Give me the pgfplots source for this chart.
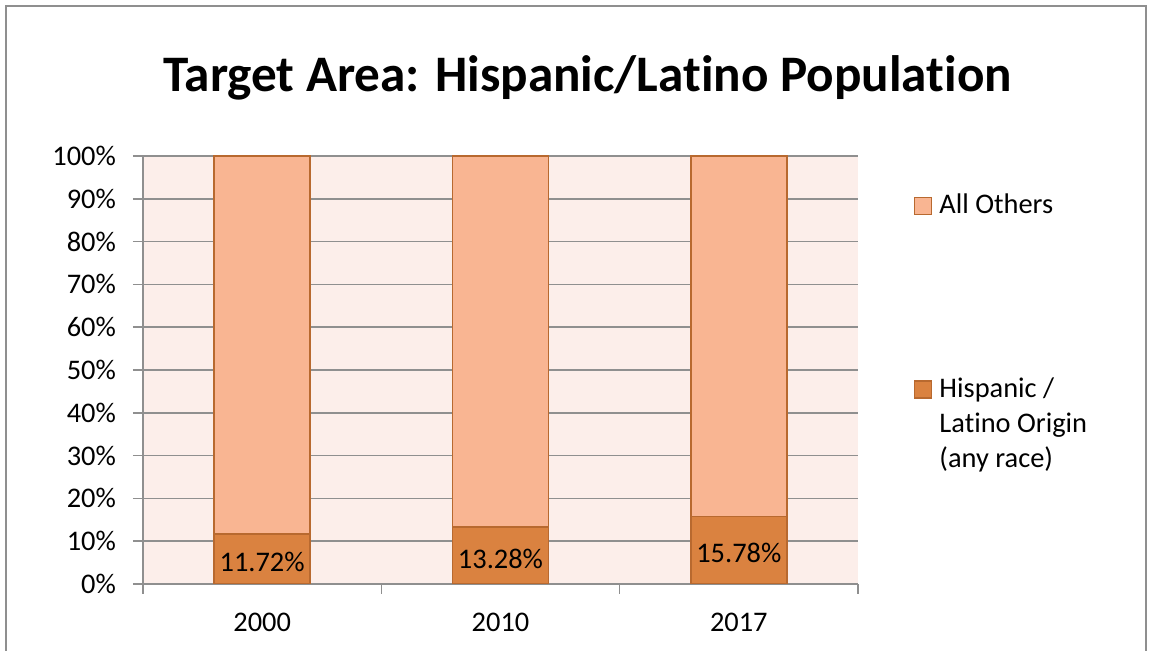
\documentclass[border=0pt]{standalone}
\usepackage{fontspec}
\setmainfont{Carlito}[Ligatures=NoCommon]
\usepackage{pgfplots}
\pgfplotsset{compat=1.18}
\definecolor{others}{HTML}{F9B592}
\definecolor{hisp}{HTML}{DA8240}
\definecolor{edge}{HTML}{B8692F}
\definecolor{plotbg}{HTML}{FCEEEA}
\definecolor{gridgray}{HTML}{8F8F8F}
\newcommand{\lbl}{\fontsize{14.2}{17.5}\selectfont}
\begin{document}
\begin{tikzpicture}
\useasboundingbox (0pt,0pt) rectangle (575.5pt,325.5pt);
\draw[gridgray, line width=1pt] (3pt,-1pt) -- (3pt,322.5pt) -- (573pt,322.5pt) -- (573pt,-1pt);
\node[font=\bfseries\fontsize{25.6}{30}\selectfont, anchor=base] at (293.75pt,279.5pt)
  {Target Area: Hispanic/Latino Population};
\begin{axis}[
    at={(71.5pt,33.5pt)}, anchor=south west,
    scale only axis, width=357.5pt, height=214pt,
    ybar stacked, bar width=48pt,
    xmin=-0.5, xmax=2.5, ymin=0, ymax=100,
    xtick={-0.5,0.5,1.5,2.5}, xticklabels={},
    extra x ticks={0,1,2}, extra x tick labels={2000,2010,2017},
    extra x tick style={major tick length=0pt, tick label style={yshift=-11pt}},
    ytick={0,10,20,30,40,50,60,70,80,90,100},
    yticklabels={0\%,10\%,20\%,30\%,40\%,50\%,60\%,70\%,80\%,90\%,100\%},
    yticklabel style={xshift=-5pt},
    axis x line*=bottom, axis y line*=left,
    axis line style={gridgray, line width=0.75pt, -},
    ymajorgrids, grid style={gridgray, line width=0.75pt},
    tick style={gridgray, line width=0.75pt},
    tick align=outside, major tick length=5pt,
    tick label style={font=\lbl, text=black},
    axis background/.style={fill=plotbg},
    /pgf/number format/assume math mode=true,
    legend cell align=left, reverse legend,
    legend style={at={(1.0783,0.9224)}, anchor=north west, draw=none, fill=none,
      inner sep=0pt, outer sep=0pt, font=\lbl, row sep=78pt,
      nodes={inner ysep=0pt, inner xsep=3.5pt, anchor=base west}},
    legend image code/.code={\draw[#1, line width=0.75pt] (0pt,-0.3pt) rectangle (8.5pt,8.2pt);},
  ]
  \addplot[fill=hisp, draw=edge, line width=0.9pt,
    point meta=rawy,
    nodes near coords={\pgfmathprintnumber[fixed,fixed zerofill,precision=2]{\pgfplotspointmeta}\%},
    every node near coord/.append style={anchor=center, font=\lbl, text=black, yshift=-1.5pt}]
    coordinates {(0,11.72) (1,13.28) (2,15.78)};
  \addlegendentry{\begin{tabular}[t]{@{}l@{}}Hispanic /\\Latino Origin\\(any race)\end{tabular}}
  \addplot[fill=others, draw=edge, line width=0.9pt]
    coordinates {(0,88.28) (1,86.72) (2,84.22)};
  \addlegendentry{\begin{tabular}[t]{@{}l@{}}All Others\end{tabular}}
\end{axis}
\end{tikzpicture}
\end{document}
